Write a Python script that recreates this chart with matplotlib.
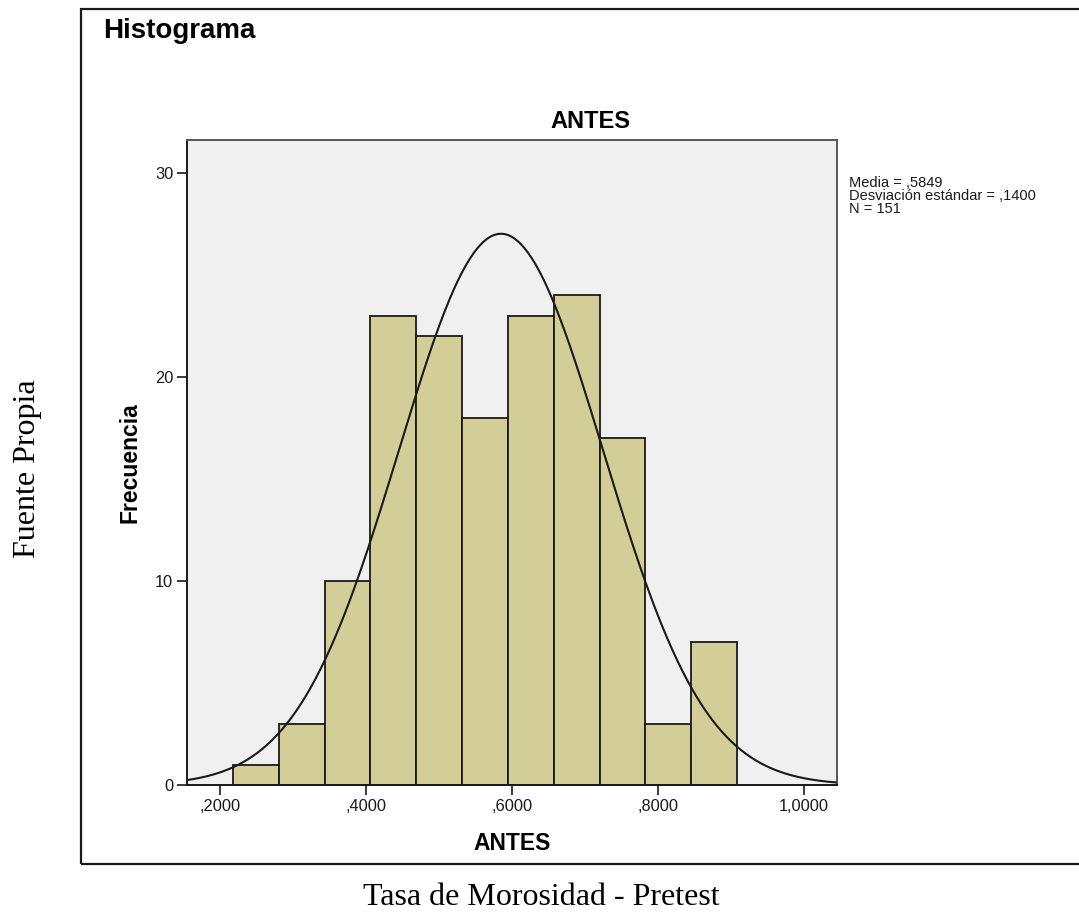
import numpy as np
import matplotlib
matplotlib.use("Agg")
import matplotlib.pyplot as plt
from matplotlib.patches import Rectangle

# histogram data
bin_edges = [0.2178, 0.2806, 0.3433, 0.4061, 0.4688, 0.5316, 0.5944,
             0.6571, 0.7199, 0.7827, 0.8454, 0.9082]
counts = [1, 3, 10, 23, 22, 18, 23, 24, 17, 3, 7]
media = 0.5849
desv = 0.1400
n = 151
xticks = [0.2, 0.4, 0.6, 0.8, 1.0]
xticklabels = [",2000", ",4000", ",6000", ",8000", "1,0000"]
yticks = [0, 10, 20, 30]

plt.rcParams['font.family'] = ['Liberation Sans', 'DejaVu Sans']

fig = plt.figure(figsize=(10.79, 9.13), dpi=100)
W, H = 1079.0, 913.0

def fx(px):
    return px / W

def fy(py):
    return 1 - py / H

ax = fig.add_axes([fx(187), fy(785), fx(837) - fx(187), fy(140) - fy(785)])
ax.set_facecolor("#F0F0F0")

widths = np.diff(bin_edges)
ax.bar(bin_edges[:-1], counts, width=widths, align="edge",
       color="#D3CE97", edgecolor="#1a1a1a", linewidth=1.3, zorder=2)

# normal curve
x0, x1 = 0.1548, 1.0452
xs = np.linspace(x0, x1, 400)
bw = np.mean(widths)
ys = n * bw / (desv * np.sqrt(2 * np.pi)) * np.exp(-0.5 * ((xs - media) / desv) ** 2)
ax.plot(xs, ys, color="#1a1a1a", linewidth=1.5, zorder=3)

ax.set_xlim(x0, x1)
ax.set_ylim(0, 31.6)
ax.set_xticks(xticks)
ax.set_xticklabels(xticklabels)
ax.set_yticks(yticks)
ax.tick_params(axis="both", direction="out", length=7, width=1.2,
               labelsize=11.8, colors="#1a1a1a", pad=3)
for s in ["left", "bottom"]:
    ax.spines[s].set_linewidth(1.4)
    ax.spines[s].set_color("#1a1a1a")
for s in ["top", "right"]:
    ax.spines[s].set_linewidth(1.4)
    ax.spines[s].set_color("#555555")

# texts
fig.text(fx(103), fy(31), "Histograma", fontsize=20, fontweight="bold",
         ha="left", va="center")
fig.text(fx(590), fy(121), "ANTES", fontsize=17, fontweight="bold",
         ha="center", va="center")
fig.text(fx(512), fy(843), "ANTES", fontsize=16.5, fontweight="bold",
         ha="center", va="center")
fig.text(fx(130), fy(463), "Frecuencia", fontsize=16.5, fontweight="bold",
         ha="center", va="center", rotation=90)

stats = ["Media = ,5849", "Desviación estándar = ,1400", "N = 151"]
for i, t in enumerate(stats):
    fig.text(fx(849), fy(183 + 13 * i), t, fontsize=10.5,
             ha="left", va="center", color="#1a1a1a")

fig.text(fx(28), fy(469), "Fuente Propia", fontsize=23,
         family=["Liberation Serif", "DejaVu Serif"],
         ha="center", va="center", rotation=90)
fig.text(fx(541), fy(897), "Tasa de Morosidad - Pretest", fontsize=23,
         family=["Liberation Serif", "DejaVu Serif"],
         ha="center", va="center")

# outer frame
fig.patches.append(Rectangle((fx(81), fy(864)), fx(1100) - fx(81), fy(9) - fy(864),
                             transform=fig.transFigure, fill=False,
                             edgecolor="#1a1a1a", linewidth=1.6))

fig.savefig("out.png", dpi=100)
